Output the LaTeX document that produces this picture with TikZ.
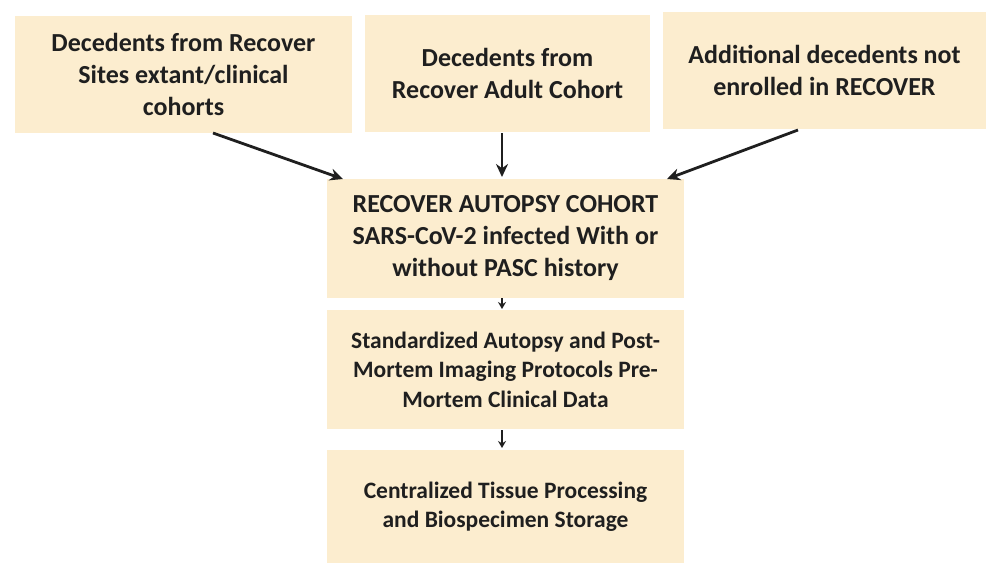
\documentclass[tikz,border=0pt]{standalone}
\usepackage{fontspec}
\setmainfont{Carlito}
\usetikzlibrary{arrows.meta}
\definecolor{boxfill}{HTML}{FCEDCF}
\begin{document}
\begin{tikzpicture}[x=1pt,y=-1pt,
  box/.style={fill=boxfill,draw=none,inner sep=0pt,align=center,font=\bfseries\fontsize{26}{32}\selectfont,text=black!88},
  smallbox/.style={box,font=\bfseries\fontsize{23.5}{29.5}\selectfont},
  arr/.style={-{Stealth[length=13pt,width=12pt]},line width=2.8pt,black!88},
  sarr/.style={-{Stealth[length=7pt,width=8pt]},line width=2.4pt,black!88}]
\useasboundingbox (0,0) rectangle (986,563);
\node[box,minimum width=337,minimum height=117] (a) at (183.5,74.5) {Decedents from Recover\\Sites extant/clinical\\cohorts};
\node[box,minimum width=285,minimum height=117] (b) at (507.5,73.5) {Decedents from\\Recover Adult Cohort};
\node[box,minimum width=323,minimum height=117] (c) at (824.5,70) {Additional decedents not\\enrolled in RECOVER};
\node[box,minimum width=357,minimum height=119] (d) at (505.5,238.5) {RECOVER AUTOPSY COHORT\\SARS-CoV-2 infected With or\\without PASC history};
\node[smallbox,minimum width=357,minimum height=119] (e) at (505.5,369.5) {Standardized Autopsy and Post-\\Mortem Imaging Protocols Pre-\\Mortem Clinical Data};
\node[smallbox,minimum width=357,minimum height=113] (f) at (505.5,506.5) {Centralized Tissue Processing\\and Biospecimen Storage};
\coordinate (a1) at (213,133);
\coordinate (d1) at (343,179);
\coordinate (b1) at (502,133);
\coordinate (d0) at (502,177);
\coordinate (c1) at (798,130);
\coordinate (d2) at (667,179);
\coordinate (d3) at (502,298);
\coordinate (e1) at (502,309);
\coordinate (e2) at (502,430);
\coordinate (f1) at (502,448);
\draw[arr] (a1) -- (d1);
\draw[arr] (b1) -- (d0);
\draw[arr] (c1) -- (d2);
\draw[sarr] (d3) -- (e1);
\draw[sarr] (e2) -- (f1);
\end{tikzpicture}
\end{document}
